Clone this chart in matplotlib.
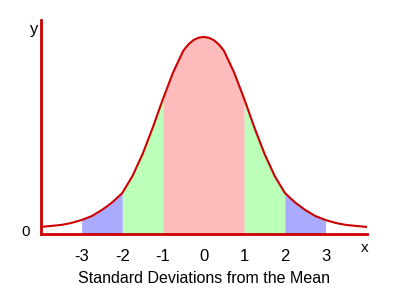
import matplotlib
matplotlib.use("Agg")
import matplotlib.pyplot as plt
import numpy as np

plt.rcParams["font.family"] = ["Liberation Sans", "DejaVu Sans"]

# curve (height relative to the peak)
sd = [-4.0, -3.75, -3.5, -3.25, -3.0, -2.75, -2.5, -2.25, -2.0, -1.75, -1.5, -1.25,
      -1.0, -0.75, -0.5, -0.375, -0.25, -0.125, 0.0, 0.125, 0.25, 0.375, 0.5, 0.75,
      1.0, 1.25, 1.5, 1.75, 2.0, 2.25, 2.5, 2.75, 3.0, 3.25, 3.5, 3.75, 4.0]
height = [0.036, 0.041, 0.046, 0.056, 0.071, 0.091, 0.122, 0.160, 0.208, 0.294, 0.406, 0.540,
          0.685, 0.820, 0.930, 0.962, 0.984, 0.996, 1.000, 0.996, 0.984, 0.962, 0.930, 0.820,
          0.685, 0.540, 0.406, 0.294, 0.208, 0.160, 0.122, 0.091, 0.071, 0.056, 0.046, 0.041, 0.036]
tick_vals = [-3, -2, -1, 0, 1, 2, 3]

# bands: (lo, hi, colour)
bands = [(-3, -2, "#aaaaff"), (-2, -1, "#bbffbb"), (-1, 1, "#ffbbbb"),
         (1, 2, "#bbffbb"), (2, 3, "#aaaaff")]

red = "#cc0000"

fig = plt.figure(figsize=(4.05, 3.01), dpi=100)
ax = fig.add_axes([0.1012, 0.2226, 0.805, 0.711])

x = np.array(sd)
y = np.array(height)
for lo, hi, col in bands:
    m = (x >= lo) & (x <= hi)
    ax.fill_between(x[m], 0, y[m], color=col, linewidth=0)

ax.plot(x, y, color=red, linewidth=1.5, solid_joinstyle="round")

ax.set_xlim(-4.0, 4.02)
ax.set_ylim(0, 1.086)

for s in ["top", "right"]:
    ax.spines[s].set_visible(False)
for s in ["left", "bottom"]:
    ax.spines[s].set_color(red)
    ax.spines[s].set_linewidth(2)

ax.set_yticks([])
ax.set_xticks(tick_vals)
ax.set_xticklabels([str(v) for v in tick_vals], fontsize=12)
ax.tick_params(axis="x", length=0, pad=11)
ax.set_xlabel("Standard Deviations from the Mean", fontsize=11.5, labelpad=5)

ax.text(-0.009, 0.955, "y", transform=ax.transAxes, ha="right", va="center", fontsize=12)
ax.text(-0.034, 0.01, "0", transform=ax.transAxes, ha="right", va="center", fontsize=11)
ax.text(0.994, -0.065, "x", transform=ax.transAxes, ha="center", va="center", fontsize=11)

fig.savefig("out.png", dpi=100)
